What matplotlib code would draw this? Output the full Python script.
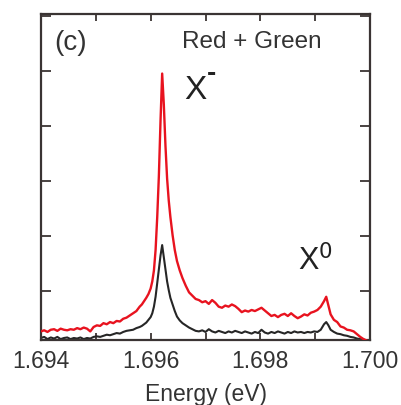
import matplotlib.pyplot as plt
from matplotlib.ticker import MultipleLocator

# ==========================================
# Data
# ==========================================
energy = [
    1.69400, 1.69406, 1.69412, 1.69418, 1.69424, 1.69430, 1.69436, 1.69442,
    1.69448, 1.69454, 1.69460, 1.69466, 1.69472, 1.69478, 1.69484, 1.69490,
    1.69496, 1.69502, 1.69508, 1.69514, 1.69520, 1.69526, 1.69532, 1.69538,
    1.69544, 1.69550, 1.69556, 1.69562, 1.69568, 1.69574, 1.69580,
    1.69584, 1.69588, 1.69592, 1.69596, 1.69600, 1.69603, 1.69606, 1.69609,
    1.69612, 1.69615, 1.69618, 1.69621, 1.69624, 1.69627, 1.69630, 1.69633,
    1.69636, 1.69640, 1.69644, 1.69648, 1.69653, 1.69658, 1.69664, 1.69670,
    1.69676, 1.69682,
    1.69688, 1.69694, 1.69700, 1.69706, 1.69712, 1.69718, 1.69724, 1.69730,
    1.69736, 1.69742, 1.69748, 1.69754, 1.69760, 1.69766, 1.69772, 1.69778,
    1.69784, 1.69790, 1.69796, 1.69802, 1.69808, 1.69814, 1.69820, 1.69826,
    1.69832, 1.69838, 1.69844, 1.69850, 1.69856, 1.69862, 1.69868, 1.69874,
    1.69880, 1.69886, 1.69892, 1.69898, 1.69904, 1.69910, 1.69916, 1.69920,
    1.69924, 1.69928, 1.69934, 1.69940, 1.69946, 1.69952, 1.69958, 1.69964,
    1.69970, 1.69976, 1.69982, 1.69988, 1.69994, 1.70000,
]

# red + green excitation
red_green = [
    0.27, 0.29, 0.26, 0.30, 0.31, 0.28, 0.32, 0.30,
    0.29, 0.31, 0.30, 0.33, 0.31, 0.34, 0.32, 0.27,
    0.35, 0.38, 0.37, 0.42, 0.40, 0.44, 0.42, 0.46,
    0.45, 0.50, 0.52, 0.56, 0.60, 0.64, 0.72,
    0.76, 0.82, 0.88, 0.95, 1.05, 1.18, 1.38, 1.75,
    2.35, 3.10, 4.10, 4.96, 4.40, 3.65, 3.05, 2.65,
    2.35, 2.02, 1.75, 1.55, 1.38, 1.24, 1.10, 0.98,
    0.92, 0.86,
    0.84, 0.80, 0.82, 0.77, 0.84, 0.79, 0.72, 0.70,
    0.74, 0.72, 0.76, 0.73, 0.68, 0.62, 0.65, 0.63,
    0.66, 0.64, 0.67, 0.70, 0.65, 0.60, 0.55, 0.57,
    0.53, 0.57, 0.59, 0.55, 0.60, 0.55, 0.51, 0.54,
    0.58, 0.56, 0.61, 0.63, 0.66, 0.72, 0.82, 0.90,
    0.74, 0.58, 0.48, 0.44, 0.36, 0.34, 0.30, 0.29,
    0.27, 0.22, 0.17, 0.13, 0.10, 0.08,
]

# reference spectrum (black)
reference = [
    0.15, 0.17, 0.13, 0.16, 0.14, 0.17, 0.13, 0.15,
    0.16, 0.13, 0.15, 0.14, 0.16, 0.13, 0.15, 0.14,
    0.17, 0.18, 0.17, 0.19, 0.21, 0.20, 0.22, 0.24,
    0.23, 0.26, 0.28, 0.29, 0.30, 0.33, 0.35,
    0.37, 0.40, 0.43, 0.48, 0.53, 0.60, 0.72, 0.90,
    1.15, 1.40, 1.65, 1.84, 1.62, 1.40, 1.18, 1.02,
    0.88, 0.76, 0.64, 0.54, 0.47, 0.42, 0.38, 0.34,
    0.31, 0.28,
    0.27, 0.29, 0.26, 0.31, 0.27, 0.25, 0.28, 0.26,
    0.24, 0.27, 0.25, 0.28, 0.26, 0.24, 0.27, 0.25,
    0.23, 0.26, 0.24, 0.30, 0.25, 0.23, 0.26, 0.24,
    0.27, 0.25, 0.23, 0.26, 0.24, 0.27, 0.25, 0.26,
    0.24, 0.26, 0.25, 0.27, 0.26, 0.30, 0.40, 0.44,
    0.38, 0.30, 0.26, 0.23, 0.22, 0.20, 0.19, 0.17,
    0.16, 0.14, 0.13, 0.12, 0.11, 0.10,
]

# ==========================================
# Plot
# ==========================================
plt.rcParams['font.family'] = ['Liberation Sans', 'DejaVu Sans']
axis_color = '#3a3433'
text_color = '#333333'

fig = plt.figure(figsize=(4.01, 4.05), dpi=100)
ax = fig.add_axes([0.102, 0.160, 0.821, 0.805])

ax.plot(energy, reference, color='#262626', linewidth=1.5, zorder=2)
ax.plot(energy, red_green, color='#e8131f', linewidth=1.7, zorder=3)

ax.set_xlim(1.694, 1.700)
ax.set_ylim(0.11, 6.04)

ax.xaxis.set_major_locator(MultipleLocator(0.002))
ax.xaxis.set_minor_locator(MultipleLocator(0.001))
ax.xaxis.set_major_formatter(plt.FuncFormatter(lambda v, p: f'{v:.3f}'))
ax.yaxis.set_major_locator(MultipleLocator(1))
ax.set_yticklabels([])

ax.tick_params(axis='x', which='both', direction='in', top=True, length=5,
               width=1.3, color=axis_color, labelsize=16.5, pad=7,
               labelcolor=text_color)
ax.tick_params(axis='y', which='both', direction='in', right=True, length=7.5,
               width=1.3, color=axis_color)
for s in ax.spines.values():
    s.set_linewidth(1.6)
    s.set_color(axis_color)

ax.set_xlabel('Energy (eV)', fontsize=16.5, color=text_color, labelpad=7)

ax.text(0.04, 0.89, '(c)', transform=ax.transAxes, fontsize=20, color=text_color)
ax.text(0.43, 0.895, 'Red + Green', transform=ax.transAxes, fontsize=17.5,
        color=text_color)

# peak labels
ax.text(0.435, 0.74, 'X', transform=ax.transAxes, fontsize=24, color='#222222')
ax.text(0.505, 0.795, '-', transform=ax.transAxes, fontsize=20,
        fontweight='bold', color='#222222')
ax.text(0.78, 0.215, r'X$^{\mathsf{0}}$', transform=ax.transAxes, fontsize=22,
        color='#222222')

plt.savefig('out.png', dpi=100)
